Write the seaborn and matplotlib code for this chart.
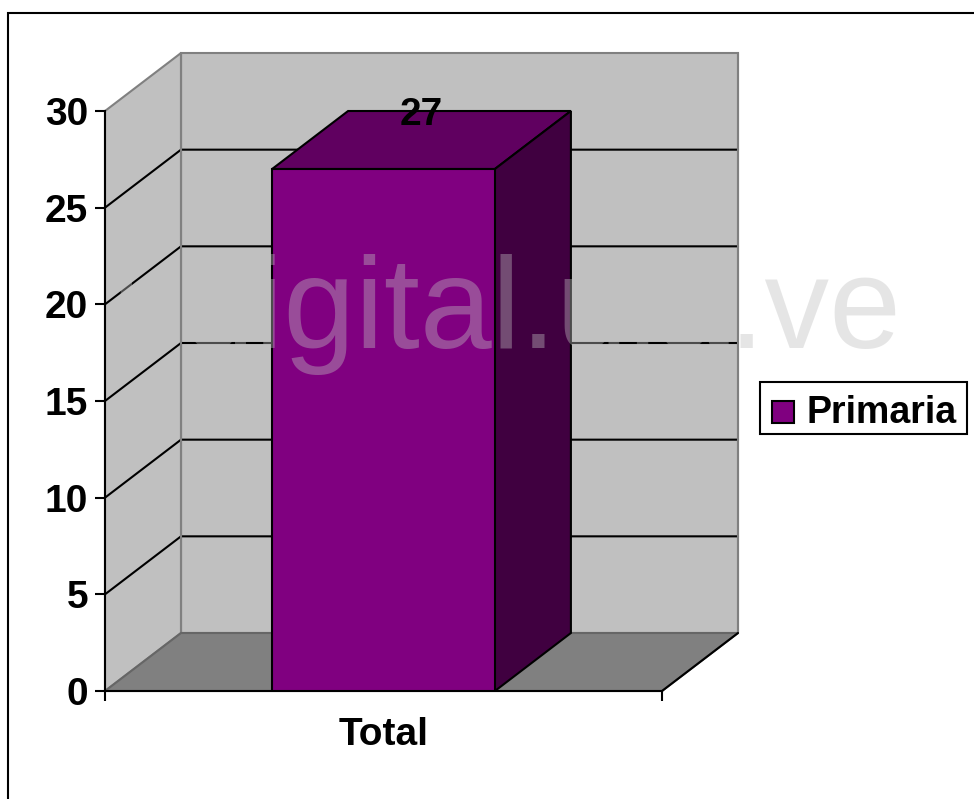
import matplotlib
matplotlib.use('Agg')
import matplotlib.pyplot as plt
from matplotlib.legend_handler import HandlerPatch
from matplotlib.patches import Patch, Polygon, Rectangle
import seaborn as sns

categories = ['Total']
values = [27]
series_name = 'Primaria'
y_ticks = [0, 5, 10, 15, 20, 25, 30]
watermark = 'bdigital.ula.ve'

sns.set_style('white', rc={'text.color': 'black', 'xtick.color': 'black', 'ytick.color': 'black'})
plt.rcParams['font.family'] = ['Liberation Sans', 'DejaVu Sans']

W, H = 974, 799
fig = plt.figure(figsize=(W / 100, H / 100), dpi=100, facecolor='white')
ax = fig.add_axes([105 / W, (H - 691) / H, 557 / W, 580 / H])
ax.patch.set_visible(False)

# fake 3d depth, in data units (76px right, 58px up)
dx = 76 / 557
dy = 3.0
x0, x1 = -0.5, 0.5
y_top = y_ticks[-1]


def face(points, color, edge, z, lw=1.5):
    ax.add_patch(Polygon(points, closed=True, facecolor=color, edgecolor=edge,
                         linewidth=lw, zorder=z, clip_on=False, joinstyle='miter'))


class Swatch(HandlerPatch):
    # legend square with its own inset from the frame
    def create_artists(self, legend, orig, xd, yd, w, h, fontsize, trans):
        r = Rectangle((3 - xd, -4 - yd), 16, 16)
        self.update_prop(r, orig, legend)
        r.set_transform(trans)
        return [r]


# walls and floor
face([(x0 + dx, dy), (x1 + dx, dy), (x1 + dx, y_top + dy), (x0 + dx, y_top + dy)], '#c0c0c0', '#808080', 0.3)
face([(x0, 0), (x0 + dx, dy), (x0 + dx, y_top + dy), (x0, y_top)], '#c0c0c0', '#808080', 0.35)
face([(x0, 0), (x1, 0), (x1 + dx, dy), (x0 + dx, dy)], '#808080', '#666666', 0.4)
ax.plot([x1, x1 + dx], [0, dy], color='black', lw=1.5, zorder=0.45, clip_on=False)

# gridlines run along the side wall and the back wall
for t in y_ticks[1:-1]:
    ax.plot([x0, x0 + dx, x1 + dx], [t, t + dy, t + dy], color='black', lw=1.5,
            zorder=0.38, clip_on=False, solid_joinstyle='miter')
ax.plot([x0 + dx, x0 + dx], [dy, y_top + dy], color='#808080', lw=1.5, zorder=0.39, clip_on=False)
ax.plot([x1 + dx, x1 + dx], [dy, y_top + dy], color='#808080', lw=1.5, zorder=0.39, clip_on=False)

sns.barplot(x=categories, y=values, color='#800080', saturation=1, width=0.4,
            edgecolor='black', linewidth=1.5, ax=ax, zorder=2)

# top and side faces of the bar
for bar, v in zip(ax.patches[-len(values):], values):
    left = bar.get_x()
    right = left + bar.get_width()
    face([(left, v), (right, v), (right + dx, v + dy), (left + dx, v + dy)], '#600060', 'black', 1.5)
    face([(right, 0), (right + dx, dy), (right + dx, v + dy), (right, v)], '#400040', 'black', 1.6)
    ax.text((left + right + dx) / 2, v + dy, str(v), ha='center', va='center_baseline',
            fontsize=28, fontweight='bold', color='black', zorder=4)

ax.set_xlim(x0, x1)
ax.set_ylim(0, y_top)
ax.set_yticks(y_ticks)
ax.set_xticks([x0, x1], minor=True)
ax.tick_params(axis='x', which='major', length=0, pad=19, labelsize=28)
ax.tick_params(axis='x', which='minor', length=7.2, width=1.5, color='black', bottom=True)
ax.tick_params(axis='y', length=7.2, width=1.5, color='black', left=True, pad=5, labelsize=28)
for lab in ax.get_xticklabels() + ax.get_yticklabels():
    lab.set_fontweight('bold')
ax.set_ylabel('')
for side in ['top', 'right']:
    ax.spines[side].set_visible(False)
for side in ['left', 'bottom']:
    ax.spines[side].set_color('black')
    ax.spines[side].set_linewidth(1.5)
    ax.spines[side].set_zorder(1)

# legend box is drawn separately, the legend's own frame hugs the text too tightly
fig.add_artist(Rectangle((760 / W, (H - 434) / H), 207 / W, 52 / H, transform=fig.transFigure,
                         facecolor='white', edgecolor='black', linewidth=1.5, zorder=-1))
handle = Patch(facecolor='#800080', edgecolor='black', linewidth=1.5)
leg = ax.legend(handles=[handle], labels=[series_name], handler_map={Patch: Swatch()},
                loc='upper left', bbox_to_anchor=(760 / W, (H - 382) / H), bbox_transform=fig.transFigure,
                frameon=False, handlelength=0.7, handleheight=0.7, handletextpad=0.33, borderpad=0.21,
                borderaxespad=0, prop={'family': 'Liberation Sans', 'weight': 'bold', 'size': 27})
leg.get_texts()[0].set_y(-5)

# chart border, runs off the right and bottom of the image
fig.add_artist(Rectangle((8 / W, -0.1), 1.2, (H - 13) / H + 0.1, transform=fig.transFigure,
                         facecolor='none', edgecolor='black', linewidth=1.5))

fig.text(112 / W, (H - 348) / H, watermark, fontsize=93, color='#c0c0c0', alpha=0.4,
         ha='left', va='baseline', zorder=10)

fig.savefig('out.png', dpi=100)
